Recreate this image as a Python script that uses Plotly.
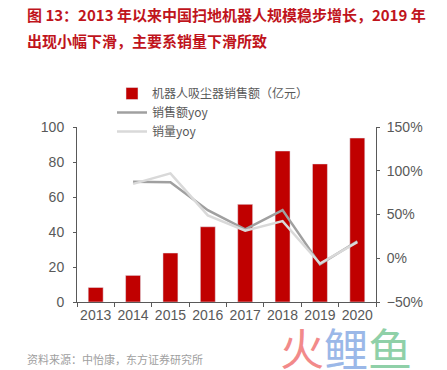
import plotly.graph_objects as go

years = ["2013", "2014", "2015", "2016", "2017", "2018", "2019", "2020"]
sales = [8.3, 15.2, 28.0, 43.0, 55.8, 86.3, 78.9, 93.7]
sales_yoy = [None, 87.5, 87.0, 55.0, 33.0, 55.0, -7.0, 19.5]
volume_yoy = [None, 85.0, 97.0, 49.0, 31.5, 42.5, -6.0, 18.5]

left_ticks = [0, 20, 40, 60, 80, 100]
right_ticks = [-50, 0, 50, 100, 150]
right_labels = ["−50%", "0%", "50%", "100%", "150%"]

FONT = "Liberation Sans, Arial, Noto Sans CJK SC"
CJK = "Noto Sans CJK SC, sans-serif"

# page body has an 8px margin: figure is drawn offset by (8, 8)
OFF = 8
W, H = 447 - OFF, 370 - OFF
L = 77 - OFF
T = 127 - OFF
R = W - (376 - OFF)
B = H - (302 - OFF)
PW = W - L - R
PH = H - T - B


def px(x):
    return (x - OFF - L) / PW


def py(y):
    return (H - B - (y - OFF)) / PH


fig = go.Figure()
fig.add_trace(go.Bar(x=years, y=sales, name="机器人吸尘器销售额（亿元）",
                     marker_color="#c00000", width=0.4, yaxis="y"))
fig.add_trace(go.Scatter(x=years, y=sales_yoy, name="销售额yoy", mode="lines",
                         line=dict(color="#a0a0a0", width=2.5), yaxis="y2"))
fig.add_trace(go.Scatter(x=years, y=volume_yoy, name="销量yoy", mode="lines",
                         line=dict(color="#d9d9d9", width=2.5), yaxis="y2"))

fig.update_layout(
    width=W, height=H,
    margin=dict(l=L, r=R, t=T, b=B, autoexpand=False),
    paper_bgcolor="white", plot_bgcolor="white",
    font=dict(family=FONT, color="#595959", size=14),
    showlegend=True,
    legend=dict(x=px(112), y=py(79), xanchor="left", yanchor="top",
                font=dict(family=CJK, size=12, color="#595959"),
                bgcolor="rgba(0,0,0,0)", tracegroupgap=0,
                traceorder="normal"),
    xaxis=dict(type="category", range=[-0.5, 7.5], showline=True,
               linecolor="#595959", linewidth=1, ticks="outside",
               tickson="boundaries", ticklen=4, tickcolor="#595959",
               tickangle=0, automargin=False,
               tickfont=dict(size=14, color="#595959")),
    yaxis=dict(range=[0, 100], tickvals=left_ticks, showgrid=False,
               showline=True, linecolor="#595959", ticks="outside",
               ticklen=3, tickcolor="#595959", zeroline=False, automargin=False,
               ticklabelstandoff=6,
               tickfont=dict(size=14, color="#595959")),
    yaxis2=dict(range=[-50, 150], tickvals=right_ticks, ticktext=right_labels,
                overlaying="y", side="right", showgrid=False, showline=True,
                linecolor="#595959", ticks="outside", ticklen=3,
                tickcolor="#595959", zeroline=False, automargin=False,
                ticklabelstandoff=4,
                tickfont=dict(size=14, color="#595959")),
)

title_font = dict(family=CJK, size=15, color="#c0141c")
fig.add_annotation(xref="paper", yref="paper", x=px(25), y=py(14),
                   xanchor="left", yanchor="middle", showarrow=False,
                   text="<b>图 13：2013 年以来中国扫地机器人规模稳步增长，2019 年</b>",
                   font=title_font)
fig.add_annotation(xref="paper", yref="paper", x=px(25), y=py(40),
                   xanchor="left", yanchor="middle", showarrow=False,
                   text="<b>出现小幅下滑，主要系销量下滑所致</b>",
                   font=title_font)
fig.add_annotation(xref="paper", yref="paper", x=px(25), y=py(359),
                   xanchor="left", yanchor="middle", showarrow=False,
                   text="资料来源：中怡康，东方证券研究所",
                   font=dict(family=CJK, size=11, color="#a0a0a0"))
fig.add_annotation(xref="paper", yref="paper", x=px(278), y=py(347),
                   xanchor="left", yanchor="middle", showarrow=False,
                   text="<span style='color:#f28a8a'>火</span><span style='color:#9bb8e8'>鲤</span><span style='color:#8fd0a8'>鱼</span>",
                   font=dict(family=CJK, size=44))

fig.write_html("out.html")
